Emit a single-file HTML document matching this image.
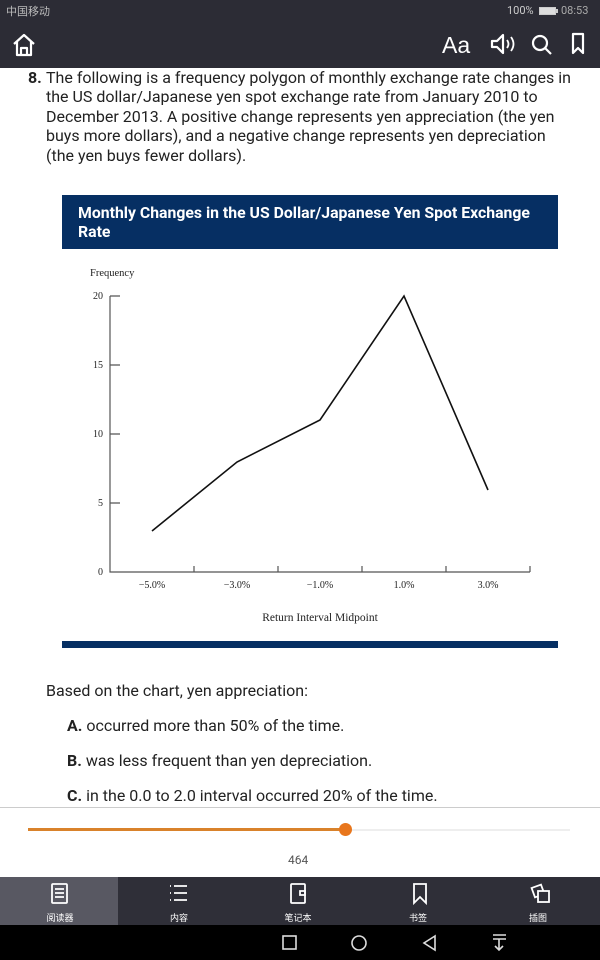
<!DOCTYPE html>
<html><head><meta charset="utf-8"><style>
*{margin:0;padding:0;box-sizing:border-box}
body{width:600px;height:960px;position:relative;background:#fff;font-family:"Roboto","Liberation Sans","Noto Sans CJK SC",sans-serif;overflow:hidden;color:#222}
.a{position:absolute;white-space:nowrap}
.p{font-size:16px;line-height:19.4px;color:#222}
</style></head><body>
<div class="a" style="left:0;top:0;width:600px;height:68px;background:#2c2c35"></div>
<div class="a" style="left:6px;top:3px;font-size:11px;color:#bbb">中国移动</div>
<div class="a" style="left:507px;top:4px;font-size:11px;color:#ccc">100%</div>
<div class="a" style="left:539px;top:7px;width:17px;height:8px;background:#ddd;border:1px solid #ccc"></div>
<div class="a" style="left:556px;top:9px;width:2px;height:4px;background:#ccc"></div>
<div class="a" style="left:561px;top:4px;font-size:11px;color:#aaa">08:53</div>
<svg class="a" style="left:0;top:22px" width="600" height="46">
<g fill="none" stroke="#fff" stroke-width="2.2" stroke-linejoin="round">
<path d="M14 22 L24 13 L34 22 M17 20 V33 H31 V20 M21 33 V26 H27 V33"/>
<path d="M492 19 H497 L503 13 V31 L497 25 H492 Z"/>
<path d="M507 18 Q510 22 507 26 M511 15 Q516 22 511 29" stroke-width="1.8"/>
<circle cx="540" cy="21" r="7"/><path d="M545 26 L551 32"/>
<path d="M573 12 H583 V31 L578 26 L573 31 Z"/>
</g>
<text x="442" y="31" font-size="23" fill="#fff" font-family="Liberation Sans">Aa</text>
</svg>

<div class="a p" style="left:28px;top:68px;font-weight:bold">8.</div>
<div class="a p" style="left:46px;top:68px">The following is a frequency polygon of monthly exchange rate changes in<br>the US dollar/Japanese yen spot exchange rate from January 2010 to<br>December 2013. A positive change represents yen appreciation (the yen<br>buys more dollars), and a negative change represents yen depreciation<br>(the yen buys fewer dollars).</div>

<div class="a" style="left:62px;top:195px;width:496px;height:54px;background:#062f63"></div>
<div class="a" style="left:78px;top:203px;font-size:15.8px;line-height:19px;font-weight:bold;color:#fff">Monthly Changes in the US Dollar/Japanese Yen Spot Exchange<br>Rate</div>

<svg class="a" style="left:0;top:0" width="600" height="660" font-family="Liberation Serif" fill="#222">
<text x="90" y="276" font-size="10.5">Frequency</text>
<g stroke="#555" stroke-width="1.2" fill="none">
<path d="M110 296 V572 H530"/>
<path d="M110 296 H120 M110 365 H120 M110 434 H120 M110 503 H120"/>
<path d="M194 566 V572 M278 566 V572 M362 566 V572 M446 566 V572 M530 566 V572"/>
</g>
<g font-size="10" text-anchor="end">
<text x="103" y="299">20</text><text x="103" y="368">15</text><text x="103" y="437">10</text><text x="103" y="506">5</text><text x="103" y="575">0</text>
</g>
<g font-size="10" text-anchor="middle">
<text x="152" y="588">−5.0%</text><text x="237" y="588">−3.0%</text><text x="320" y="588">−1.0%</text><text x="404" y="588">1.0%</text><text x="488" y="588">3.0%</text>
</g>
<text x="320" y="621" font-size="11.5" text-anchor="middle">Return Interval Midpoint</text>
<polyline points="152,531 237,462 320,420 404,296 488,490" fill="none" stroke="#111" stroke-width="1.6"/>
<rect x="62" y="641" width="496" height="7" fill="#062f63"/>
</svg>

<div class="a p" style="left:46px;top:681px">Based on the chart, yen appreciation:</div>
<div class="a p" style="left:67px;top:716px"><b>A.</b> occurred more than 50% of the time.</div>
<div class="a p" style="left:67px;top:751px"><b>B.</b> was less frequent than yen depreciation.</div>
<div class="a p" style="left:67px;top:786px"><b>C.</b> in the 0.0 to 2.0 interval occurred 20% of the time.</div>

<div class="a" style="left:0;top:807px;width:600px;height:1px;background:#ccc"></div>
<div class="a" style="left:0;top:808px;width:600px;height:69px;background:#fff"></div>
<div class="a" style="left:346px;top:829px;width:224px;height:2px;background:#eee"></div>
<div class="a" style="left:28px;top:828px;width:318px;height:3px;background:#d9822b"></div>
<div class="a" style="left:339px;top:823px;width:13px;height:13px;border-radius:50%;background:#e8761c"></div>
<div class="a" style="left:288px;top:853px;font-size:12px;color:#555">464</div>

<div class="a" style="left:0;top:877px;width:600px;height:48px;background:#2f2f38"></div>
<div class="a" style="left:0;top:877px;width:118px;height:48px;background:#585862"></div>
<svg class="a" style="left:0;top:877px" width="600" height="48">
<g fill="none" stroke="#fff" stroke-width="1.8">
<rect x="52" y="7" width="15" height="19" rx="1"/><path d="M55 12 H64 M55 16 H64 M55 20 H64"/>
<path d="M174 9 H187 M174 16 H187 M174 23 H187" /><path d="M170 9 H171 M170 16 H171 M170 23 H171"/>
<rect x="291" y="7" width="14" height="19" rx="1"/><path d="M300 14 H305 V18 H300 Z"/>
<path d="M414 7 H426 V26 L420 20 L414 26 Z"/>
<rect x="533" y="9" width="10" height="10" transform="rotate(-20 538 14)"/><rect x="538" y="14" width="11" height="11" fill="#2f2f38"/>
</g>
<g font-size="9" fill="#fff" text-anchor="middle" font-family="Noto Sans CJK SC,sans-serif">
<text x="60" y="44">阅读器</text><text x="179" y="44">内容</text><text x="298" y="44">笔记本</text><text x="418" y="44">书签</text><text x="538" y="44">插图</text>
</g>
</svg>
<div class="a" style="left:0;top:925px;width:600px;height:35px;background:#000"></div>
<svg class="a" style="left:0;top:925px" width="600" height="35">
<g fill="none" stroke="#ddd" stroke-width="1.6">
<rect x="283" y="11" width="13" height="13"/>
<circle cx="359" cy="18" r="7"/>
<path d="M435 11 L424 18 L435 25 Z"/>
<path d="M493 10 H506 M493 14 H506 M499 14 V25 M495 21 L499 25 L503 21"/>
</g>
</svg>
</body></html>
